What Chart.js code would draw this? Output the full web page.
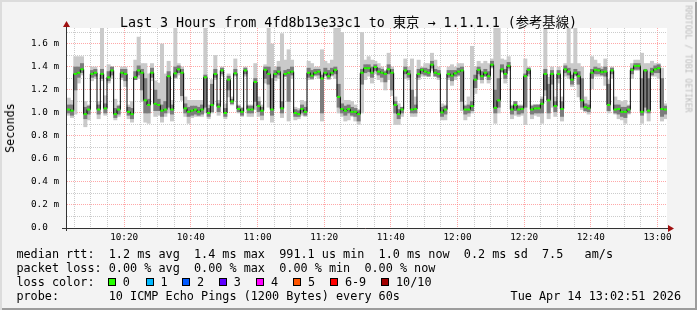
<!DOCTYPE html>
<html>
<head>
<meta charset="utf-8">
<script src="https://cdn.jsdelivr.net/npm/chart.js@4.4.1/dist/chart.umd.min.js"></script>
<style>
  html, body { margin: 0; padding: 0; }
  body { width: 697px; height: 310px; overflow: hidden; }
  #frame {
    position: relative; width: 697px; height: 310px; background: #f3f3f3;
    box-shadow: inset 2px 2px 0 #dcdcdc, inset -2px -2px 0 #9c9c9c;
    font-family: 'DejaVu Sans Mono', 'Noto Sans CJK JP', monospace; color: #000;
  }
  #chart { position: absolute; left: 0; top: 0; }
  .txt { position: absolute; white-space: pre; font-size: 11.8px; line-height: 14px; }
  #title { position: absolute; left: 0; top: 13.5px; width: 697px; text-align: center;
           font-size: 13.33px; line-height: 18px; white-space: pre; }
  #ylabel { position: absolute; left: 10px; top: 128px; font-size: 11.8px; line-height: 14px;
            transform: translate(-50%, -50%) rotate(-90deg); white-space: nowrap; }
  #mark { position: absolute; left: 688px; top: 59px; font-size: 8.1px; line-height: 9px; color: #bdbdbd;
          transform: translate(-50%, -50%) rotate(90deg); white-space: nowrap; }
  .box { position: absolute; top: 278px; width: 8px; height: 8px; box-sizing: border-box; border: 1px solid #000; }
</style>
</head>
<body>
<div id="frame">
  <canvas id="chart" width="697" height="310"></canvas>
  <div id="title">Last 3 Hours from 4fd8b13e33c1 to 東京 → 1.1.1.1 (参考基線)</div>
  <div id="ylabel">Seconds</div>
  <div id="mark">RRDTOOL / TOBI OETIKER</div>
  <div class="txt" style="left:16.4px;top:247.4px">median rtt:  1.2 ms avg  1.4 ms max  991.1 us min  1.0 ms now  0.2 ms sd  7.5   am/s</div>
  <div class="txt" style="left:16.4px;top:261.4px">packet loss: 0.00 % avg  0.00 % max  0.00 % min  0.00 % now</div>
  <div class="txt" style="left:16.4px;top:275.4px">loss color:</div>
  <div id="losslegend"></div>
  <div class="txt" style="left:16.4px;top:289.4px">probe:       10 ICMP Echo Pings (1200 Bytes) every 60s</div>
  <div class="txt" style="right:16px;top:289.4px">Tue Apr 14 13:02:51 2026</div>
</div>
<script>
// one sample per minute, first one starts at 10:02:51 (minutes after 10:00)
const startMin = 2.85;

// median rtt per minute (ms)
const medianMs = [
  1.03,1.02,1.34,1.35,1.38,0.99,1.03,1.34,1.35,1.03,
  1.34,1.04,1.31,1.37,0.99,1.03,1.35,1.34,1.01,0.99,
  1.31,1.37,1.35,1.11,1.07,1.35,1.08,1.07,1.02,1.03,
  1.32,1.03,1.345,1.38,1.35,1.04,1.01,1.02,1.03,1.01,
  1.03,1.31,1.00,1.07,1.34,1.055,1.37,1.00,1.29,1.10,
  1.345,1.035,1.01,1.37,1.03,1.03,1.27,1.06,1.02,1.375,
  1.34,1.03,1.34,1.36,1.04,1.34,1.35,1.36,1.00,0.99,
  1.035,1.01,1.35,1.325,1.35,1.36,1.30,1.35,1.32,1.35,
  1.375,1.14,1.035,1.02,1.035,1.01,1.01,0.99,1.35,1.39,
  1.39,1.35,1.40,1.36,1.35,1.34,1.38,1.35,1.07,0.99,
  1.03,1.37,1.34,1.03,1.035,1.34,1.375,1.36,1.35,1.42,
  1.35,1.34,1.005,1.03,1.34,1.325,1.345,1.36,1.37,1.03,
  1.03,1.06,1.29,1.375,1.32,1.35,1.32,1.42,1.045,1.11,
  1.38,1.34,1.41,1.03,1.07,1.03,1.035,1.32,1.375,1.03,
  1.04,1.04,1.08,1.34,1.11,1.34,1.06,1.34,1.035,1.38,
  1.36,1.29,1.35,1.32,1.11,1.05,1.04,1.35,1.375,1.37,
  1.355,1.36,1.07,1.37,1.03,1.035,1.01,1.01,1.03,1.375,
  1.41,1.41,1.01,1.37,1.02,1.36,1.38,1.39,1.035,1.03
];

// slowest ping per minute (ms), top of the light smoke
const maxMs = [
  1.13,1.11,1.49,1.49,1.49,1.10,1.07,1.40,1.40,1.10,
  1.74,1.15,1.42,1.40,1.12,1.07,1.40,1.40,1.07,1.10,
  1.46,1.66,1.43,1.43,1.34,1.43,1.28,1.26,1.60,1.34,
  1.45,1.11,1.74,1.43,1.40,1.14,1.11,1.11,1.11,1.11,
  1.11,1.74,1.07,1.29,1.50,1.11,1.40,1.08,1.34,1.14,
  1.47,1.07,1.05,1.40,1.07,1.07,1.43,1.14,1.07,1.42,
  1.74,1.60,1.40,1.45,1.69,1.46,1.55,1.46,1.05,1.04,
  1.11,1.10,1.45,1.43,1.40,1.40,1.55,1.45,1.43,1.46,
  1.74,1.74,1.70,1.11,1.11,1.10,1.07,1.03,1.70,1.46,
  1.49,1.46,1.45,1.43,1.40,1.37,1.52,1.40,1.14,1.08,
  1.05,1.47,1.40,1.47,1.14,1.46,1.40,1.43,1.43,1.52,
  1.46,1.40,1.08,1.07,1.40,1.42,1.40,1.43,1.43,1.07,
  1.14,1.58,1.40,1.45,1.43,1.45,1.43,1.47,1.74,1.74,
  1.47,1.46,1.49,1.07,1.10,1.07,1.07,1.47,1.40,1.07,
  1.07,1.07,1.14,1.74,1.31,1.40,1.14,1.40,1.14,1.43,
  1.74,1.43,1.74,1.43,1.40,1.14,1.11,1.49,1.46,1.43,
  1.40,1.47,1.29,1.40,1.14,1.11,1.10,1.11,1.07,1.43,
  1.46,1.46,1.52,1.43,1.43,1.45,1.43,1.43,1.39,1.08
];

// fastest ping per minute (ms), bottom of the light smoke
const minMs = [
  0.98,0.96,0.99,1.26,1.33,0.88,0.94,1.28,1.30,0.95,
  1.28,0.98,1.26,1.30,0.94,0.97,1.29,1.23,0.95,0.92,
  1.29,1.30,1.10,0.92,0.91,1.28,0.97,0.98,0.92,0.97,
  1.00,0.93,1.30,1.33,1.11,0.97,0.91,0.96,0.97,0.97,
  0.97,1.00,0.95,1.00,1.29,0.98,1.32,0.95,1.14,1.07,
  1.32,1.00,0.97,1.32,0.97,0.97,1.03,0.97,0.94,1.26,
  1.05,0.92,1.28,1.30,0.96,1.32,0.93,1.30,0.94,0.95,
  0.98,0.97,1.29,1.29,1.32,1.30,0.93,1.32,1.29,1.32,
  1.30,1.00,0.97,0.93,0.94,0.97,0.93,0.90,1.00,1.29,
  1.32,1.26,1.34,1.29,1.27,1.20,1.29,1.15,0.90,0.90,
  0.97,1.30,1.29,0.97,0.97,1.29,1.32,1.32,1.32,1.37,
  1.32,1.29,0.94,0.94,1.29,1.24,1.29,1.32,1.02,0.94,
  0.97,1.00,1.17,1.29,1.26,1.32,1.26,1.39,0.91,1.00,
  1.35,1.26,1.37,0.95,0.98,0.97,0.98,0.90,1.32,0.95,
  0.98,0.97,0.91,1.15,0.95,1.05,0.97,1.26,0.93,1.32,
  1.30,1.23,1.32,1.14,1.03,1.01,0.99,1.21,1.32,1.32,
  1.32,1.24,1.00,1.30,0.99,0.95,0.94,0.91,0.99,1.30,
  1.37,1.37,0.91,1.00,0.93,1.32,1.32,1.30,0.93,0.95
];

// inner (dark) smoke band per minute (ms)
const innerLo = [
  1.00,0.98,1.20,1.31,1.35,0.95,0.99,1.31,1.32,0.99,
  1.30,1.00,1.28,1.33,0.96,0.99,1.31,1.28,0.98,0.95,
  1.29,1.33,1.20,1.00,1.00,1.31,1.02,1.02,0.97,1.00,
  1.05,0.99,1.31,1.35,1.15,1.00,0.97,0.98,0.99,0.98,
  0.99,1.05,0.97,1.01,1.31,1.01,1.34,0.97,1.20,1.08,
  1.33,1.01,0.98,1.34,1.00,1.00,1.10,1.01,0.98,1.30,
  1.25,0.98,1.31,1.33,1.00,1.32,1.10,1.33,0.97,0.97,
  1.00,0.98,1.31,1.30,1.33,1.33,1.00,1.33,1.30,1.33,
  1.34,1.05,1.00,0.98,1.00,0.98,0.97,0.93,1.25,1.35,
  1.36,1.31,1.37,1.33,1.31,1.27,1.34,1.20,1.00,0.95,
  1.00,1.34,1.31,1.00,1.00,1.31,1.34,1.33,1.32,1.39,
  1.32,1.31,0.97,0.99,1.31,1.28,1.32,1.33,1.10,0.99,
  1.00,1.02,1.22,1.34,1.29,1.32,1.29,1.40,1.00,1.05,
  1.36,1.30,1.39,0.99,1.02,0.99,1.00,1.05,1.34,0.99,
  1.00,1.00,1.00,1.20,1.00,1.25,1.01,1.30,0.97,1.35,
  1.33,1.25,1.33,1.25,1.05,1.02,1.01,1.30,1.34,1.34,
  1.33,1.32,1.02,1.34,1.00,0.99,0.97,0.96,1.00,1.34,
  1.38,1.38,0.98,1.05,1.00,1.33,1.35,1.35,0.97,0.99
];
const innerHi = [
  1.07,1.07,1.40,1.40,1.43,1.05,1.06,1.37,1.38,1.07,
  1.38,1.08,1.36,1.40,1.04,1.06,1.38,1.38,1.05,1.04,
  1.36,1.41,1.38,1.30,1.12,1.39,1.20,1.12,1.07,1.10,
  1.36,1.07,1.40,1.41,1.38,1.08,1.05,1.06,1.06,1.05,
  1.07,1.33,1.04,1.25,1.38,1.08,1.39,1.04,1.32,1.12,
  1.38,1.06,1.04,1.39,1.06,1.06,1.30,1.10,1.05,1.40,
  1.40,1.30,1.37,1.40,1.10,1.37,1.38,1.40,1.03,1.02,
  1.07,1.05,1.39,1.37,1.38,1.38,1.33,1.39,1.37,1.39,
  1.40,1.25,1.08,1.06,1.07,1.05,1.04,1.02,1.38,1.42,
  1.42,1.40,1.42,1.39,1.38,1.36,1.42,1.38,1.10,1.03,
  1.05,1.40,1.37,1.20,1.07,1.38,1.39,1.39,1.38,1.45,
  1.38,1.37,1.05,1.06,1.37,1.37,1.37,1.39,1.40,1.06,
  1.07,1.10,1.33,1.40,1.36,1.38,1.36,1.45,1.20,1.30,
  1.42,1.38,1.44,1.06,1.10,1.06,1.06,1.34,1.39,1.06,
  1.07,1.07,1.12,1.38,1.25,1.37,1.10,1.37,1.10,1.41,
  1.39,1.33,1.38,1.36,1.30,1.08,1.07,1.38,1.40,1.39,
  1.38,1.40,1.25,1.39,1.07,1.07,1.05,1.05,1.06,1.39,
  1.43,1.43,1.30,1.38,1.30,1.39,1.41,1.42,1.30,1.06
];

// axis labels
const timeTicks = [20, 40, 60, 80, 100, 120, 140, 160, 180];
const timeLabels = ['10:20','10:40','11:00','11:20','11:40','12:00','12:20','12:40','13:00'];
const yTickLabels = ['0.0  ','0.2 m','0.4 m','0.6 m','0.8 m','1.0 m','1.2 m','1.4 m','1.6 m'];
const yMax = 1.739;

// loss colour legend
const lossLabels = ['0','1','2','3','4','5','6-9','10/10'];
const lossColors = ['#26ff00','#00b8ff','#0059ff','#5e00ff','#ff00ff','#ff5500','#ff0000','#a10000'];
const lossBoxX = [108, 145.8, 182.2, 219.1, 256.4, 293.3, 330.2, 381.3];

const legendEl = document.getElementById('losslegend');
lossLabels.forEach((lab, i) => {
  const b = document.createElement('div');
  b.className = 'box';
  b.style.left = lossBoxX[i] + 'px';
  b.style.background = lossColors[i];
  legendEl.appendChild(b);
  const t = document.createElement('div');
  t.className = 'txt';
  t.style.left = (lossBoxX[i] + 14.7) + 'px';
  t.style.top = '275.4px';
  t.textContent = lab;
  legendEl.appendChild(t);
});

const majorGrid = 'rgba(255,110,110,0.6)';
const minorGrid = 'rgba(170,170,170,0.6)';

function points(vals) {
  return vals.map((v, i) => ({ x: startMin + 0.5 + i, y: v }));
}
function ranges(lo, hi) {
  return lo.map((v, i) => ({ x: startMin + 0.5 + i, y: [v, hi[i]] }));
}

const rrdFrame = {
  id: 'rrdFrame',
  beforeDraw(c) {
    const a = c.chartArea, g = c.ctx;
    g.save();
    g.fillStyle = '#ffffff';
    g.fillRect(a.left, a.top, a.right - a.left, a.bottom - a.top);
    g.restore();
  },
  afterDraw(c) {
    const a = c.chartArea, g = c.ctx;
    g.save();
    g.strokeStyle = '#333333';
    g.lineWidth = 1;
    g.beginPath();
    g.moveTo(a.left - 0.5, a.bottom + 3);
    g.lineTo(a.left - 0.5, a.top - 3);
    g.moveTo(a.left - 5, a.bottom + 0.5);
    g.lineTo(a.right + 2, a.bottom + 0.5);
    g.stroke();
    g.fillStyle = '#a01010';
    g.beginPath();
    g.moveTo(a.left - 4, a.top - 1);
    g.lineTo(a.left + 3, a.top - 1);
    g.lineTo(a.left - 0.5, a.top - 7);
    g.closePath();
    g.fill();
    g.beginPath();
    g.moveTo(a.right + 1, a.bottom - 3);
    g.lineTo(a.right + 1, a.bottom + 4);
    g.lineTo(a.right + 7, a.bottom + 0.5);
    g.closePath();
    g.fill();
    g.restore();
  }
};

Chart.defaults.font.family = "'DejaVu Sans Mono', monospace";

const ctx = document.getElementById('chart').getContext('2d');
new Chart(ctx, {
  type: 'bar',
  data: {
    datasets: [
      {
        type: 'line',
        data: points(medianMs),
        showLine: false,
        pointStyle: 'line',
        pointRadius: 1.6,
        pointHoverRadius: 1.6,
        pointBorderWidth: 2,
        pointBorderColor: lossColors[0],
        order: 0
      },
      {
        type: 'line',
        data: points(medianMs),
        stepped: 'middle',
        borderColor: '#000000',
        borderWidth: 1,
        pointRadius: 0,
        order: 1
      },
      {
        type: 'bar',
        data: ranges(innerLo, innerHi),
        backgroundColor: '#7c7c7c',
        borderWidth: 0,
        grouped: false,
        barPercentage: 1,
        categoryPercentage: 1,
        order: 2
      },
      {
        type: 'bar',
        data: ranges(minMs, maxMs),
        backgroundColor: '#cacaca',
        borderWidth: 0,
        grouped: false,
        barPercentage: 1,
        categoryPercentage: 1,
        order: 3
      }
    ]
  },
  options: {
    responsive: false,
    animation: false,
    events: [],
    layout: { padding: { left: 0, right: 30, top: 28, bottom: 62 } },
    plugins: {
      legend: { display: false },
      tooltip: { enabled: false }
    },
    scales: {
      x: {
        type: 'linear',
        offset: false,
        min: startMin,
        max: startMin + 180,
        z: 1,
        afterBuildTicks: axis => {
          const t = [];
          for (let m = 5; m <= 180; m += 5) t.push({ value: m });
          axis.ticks = t;
        },
        afterFit: scale => { scale.height = 20; },
        grid: {
          offset: false,
          color: c => (c.tick && c.tick.value % 20 === 0) ? majorGrid : minorGrid,
          drawTicks: false
        },
        border: { display: false, dash: [1, 1] },
        ticks: {
          autoSkip: false,
          maxRotation: 0,
          padding: 4,
          color: '#000000',
          font: { size: 9.33 },
          callback: v => {
            const k = timeTicks.indexOf(v);
            return k >= 0 ? timeLabels[k] : '';
          }
        }
      },
      y: {
        min: 0,
        max: yMax,
        z: 1,
        afterBuildTicks: axis => {
          const t = [];
          for (let k = 0; k <= 17; k++) t.push({ value: k / 10 });
          axis.ticks = t;
        },
        afterFit: scale => { scale.width = 67; },
        grid: {
          color: c => (c.tick && Math.round(c.tick.value * 10) % 2 === 0) ? majorGrid : minorGrid,
          drawTicks: false
        },
        border: { display: false, dash: [1, 1] },
        ticks: {
          autoSkip: false,
          padding: 8,
          color: '#000000',
          font: { size: 9.33 },
          callback: v => {
            const k = Math.round(v * 10);
            return k % 2 === 0 ? yTickLabels[k / 2] : '';
          }
        }
      }
    }
  },
  plugins: [rrdFrame]
});
</script>
</body>
</html>
